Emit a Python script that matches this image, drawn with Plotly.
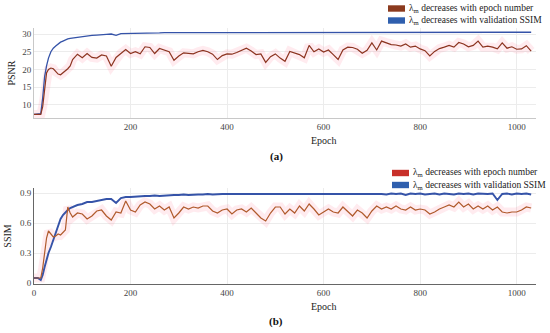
import plotly.graph_objects as go

# ---------------- data ----------------
epochs = [0, 8, 14, 18, 22, 26, 30, 35, 40, 45, 50, 55, 60, 65, 70, 75, 80,
          90, 100, 110, 120, 130, 140, 150, 160, 170, 180, 190, 200, 210, 220, 230, 240,
          250, 260, 270, 280, 290, 300, 310, 320, 330, 340, 350, 360, 370, 380, 390, 400,
          410, 420, 430, 440, 450, 460, 470, 480, 490, 500, 510, 520, 530, 540, 550, 560,
          570, 580, 590, 600, 610, 620, 630, 640, 650, 660, 670, 680, 690, 700, 710, 720,
          730, 740, 750, 760, 770, 780, 790, 800, 810, 820, 830, 840, 850, 860, 870, 880,
          890, 900, 910, 920, 930, 940, 950, 960, 970, 980, 990, 1000, 1010, 1020, 1030]

psnr_epoch = [7.3, 7.3, 7.3, 9.5, 14.5, 19.0, 20.0, 20.4, 20.2, 19.3, 18.7, 18.5, 19.0, 19.6, 20.2, 21.0, 22.8,
              24.3, 23.3, 24.5, 23.4, 23.2, 24.1, 23.8, 20.9, 23.4, 24.6, 25.6, 24.5, 25.0, 24.4, 26.4, 26.2,
              24.5, 25.9, 25.4, 25.0, 22.6, 23.8, 24.7, 24.6, 24.4, 25.0, 25.4, 25.0, 24.3, 22.8, 23.9, 24.4,
              24.3, 24.8, 25.3, 26.0, 25.2, 24.2, 24.4, 22.0, 23.6, 24.4, 23.2, 22.3, 25.1, 24.6, 24.2, 23.3,
              26.8, 25.0, 25.8, 24.9, 25.5, 24.2, 22.8, 25.5, 26.3, 26.2, 25.7, 24.6, 25.4, 27.5, 25.5, 28.0,
              27.6, 27.0, 26.9, 26.6, 27.2, 26.3, 26.6, 25.8, 25.3, 23.8, 25.1, 25.9, 26.3, 26.8, 26.3, 27.6,
              27.2, 26.4, 26.8, 28.0, 26.3, 26.6, 26.3, 25.8, 27.5, 26.0, 26.4, 25.7, 25.8, 26.7, 25.2]

psnr_ssim = [7.3, 7.3, 7.5, 12.0, 18.0, 21.0, 23.2, 25.0, 26.0, 26.6, 27.2, 27.7, 28.0, 28.4, 28.6, 28.8, 28.9,
             29.1, 29.3, 29.5, 29.6, 29.7, 29.9, 29.9, 30.0, 29.6, 30.1, 30.1, 30.2, 30.2, 30.3, 30.2, 30.3,
             30.3, 30.3, 30.4, 30.3, 30.4, 30.4, 30.4, 30.4, 30.4, 30.5, 30.4, 30.4, 30.5, 30.4, 30.5, 30.5,
             30.4, 30.5, 30.5, 30.5, 30.4, 30.5, 30.5, 30.5, 30.5, 30.5, 30.5, 30.5, 30.5, 30.5, 30.5, 30.5,
             30.5, 30.5, 30.5, 30.5, 30.5, 30.5, 30.5, 30.5, 30.5, 30.5, 30.5, 30.5, 30.5, 30.5, 30.5, 30.5,
             30.5, 30.5, 30.5, 30.5, 30.5, 30.5, 30.5, 30.5, 30.5, 30.5, 30.5, 30.5, 30.5, 30.5, 30.5, 30.5,
             30.5, 30.5, 30.5, 30.5, 30.5, 30.5, 30.5, 30.5, 30.5, 30.5, 30.5, 30.5, 30.5, 30.5, 30.5]

ssim_epoch = [0.05, 0.05, 0.05, 0.15, 0.30, 0.45, 0.52, 0.49, 0.46, 0.47, 0.49, 0.48, 0.51, 0.53, 0.76, 0.70, 0.66,
              0.70, 0.69, 0.64, 0.67, 0.72, 0.73, 0.67, 0.63, 0.71, 0.70, 0.82, 0.73, 0.71, 0.78, 0.81, 0.79,
              0.74, 0.77, 0.73, 0.76, 0.65, 0.70, 0.76, 0.74, 0.76, 0.75, 0.77, 0.77, 0.72, 0.70, 0.73, 0.74,
              0.69, 0.73, 0.74, 0.71, 0.75, 0.70, 0.65, 0.62, 0.70, 0.76, 0.76, 0.69, 0.74, 0.70, 0.77, 0.72,
              0.79, 0.74, 0.68, 0.71, 0.74, 0.71, 0.70, 0.76, 0.71, 0.67, 0.73, 0.70, 0.65, 0.72, 0.77, 0.74,
              0.76, 0.74, 0.77, 0.74, 0.73, 0.76, 0.73, 0.74, 0.73, 0.69, 0.71, 0.74, 0.76, 0.78, 0.76, 0.81,
              0.76, 0.79, 0.74, 0.77, 0.74, 0.77, 0.73, 0.76, 0.71, 0.70, 0.71, 0.71, 0.73, 0.76, 0.75]

ssim_ssim = [0.05, 0.05, 0.03, 0.08, 0.16, 0.24, 0.30, 0.36, 0.43, 0.50, 0.57, 0.64, 0.68, 0.71, 0.73, 0.75, 0.76,
             0.78, 0.79, 0.81, 0.81, 0.82, 0.83, 0.84, 0.84, 0.80, 0.85, 0.86, 0.86, 0.865, 0.87, 0.87, 0.87,
             0.875, 0.87, 0.875, 0.88, 0.88, 0.88, 0.885, 0.88, 0.885, 0.885, 0.885, 0.89, 0.885, 0.89, 0.89, 0.89,
             0.89, 0.89, 0.89, 0.895, 0.89, 0.89, 0.895, 0.89, 0.895, 0.89, 0.895, 0.895, 0.89, 0.895, 0.895, 0.89,
             0.895, 0.895, 0.89, 0.895, 0.895, 0.89, 0.895, 0.895, 0.895, 0.89, 0.895, 0.895, 0.89, 0.895, 0.895, 0.89,
             0.885, 0.895, 0.89, 0.895, 0.88, 0.895, 0.89, 0.895, 0.885, 0.89, 0.895, 0.885, 0.895, 0.89, 0.885, 0.895,
             0.89, 0.895, 0.885, 0.895, 0.89, 0.89, 0.895, 0.83, 0.89, 0.895, 0.885, 0.895, 0.89, 0.895, 0.885]

x_ticks_a = [200, 400, 600, 800, 1000]
x_ticks_b = [0, 200, 400, 600, 800, 1000]
y_ticks_a = [10, 15, 20, 25, 30]
y_ticks_b = [0, 0.3, 0.6, 0.9]
y_tick_text_b = ["0", "0.3", "0.6", "0.9"]

name_epoch = "λ<sub>m</sub> decreases with epoch number"
name_ssim = "λ<sub>m</sub> decreases with validation SSIM"

# ---------------- figure ----------------
# the page body margin is removed (post_script below), so the figure fills the window
W, H = 550, 333
SERIF = "Liberation Serif, Times New Roman, Tinos, DejaVu Serif, serif"
BLUE = "#3553a8"
RED_A = "#8c3420"
RED_B = "#b05a2c"
HALO = "rgba(255,120,150,0.15)"


def px_x(p):
    """page pixel x -> paper coordinate"""
    return p / W


def px_y(p):
    """page pixel y -> paper coordinate"""
    return 1 - p / H


fig = go.Figure()

# panel (a)
fig.add_trace(go.Scatter(x=epochs, y=psnr_epoch, mode="lines", line=dict(color=HALO, width=9),
                         hoverinfo="skip", showlegend=False, xaxis="x", yaxis="y"))
fig.add_trace(go.Scatter(x=epochs, y=psnr_ssim, mode="lines", name=name_ssim,
                         line=dict(color=BLUE, width=1.3), showlegend=False, xaxis="x", yaxis="y"))
fig.add_trace(go.Scatter(x=epochs, y=psnr_epoch, mode="lines", name=name_epoch,
                         line=dict(color=RED_A, width=1.2), showlegend=False, xaxis="x", yaxis="y"))

# panel (b)
fig.add_trace(go.Scatter(x=epochs, y=ssim_epoch, mode="lines", line=dict(color=HALO, width=9),
                         hoverinfo="skip", showlegend=False, xaxis="x2", yaxis="y2"))
fig.add_trace(go.Scatter(x=epochs, y=ssim_ssim, mode="lines", name=name_ssim,
                         line=dict(color=BLUE, width=1.9), showlegend=False, xaxis="x2", yaxis="y2"))
fig.add_trace(go.Scatter(x=epochs, y=ssim_epoch, mode="lines", name=name_epoch,
                         line=dict(color=RED_B, width=1.2), showlegend=False, xaxis="x2", yaxis="y2"))

tickfont = dict(family=SERIF, size=9, color="#444")
titlefont = dict(family=SERIF, size=10, color="#222")
axis_common = dict(showgrid=True, gridcolor="#ececec", gridwidth=1, zeroline=False,
                   ticks="", ticklen=0, tickfont=tickfont, automargin=False)

fig.update_layout(
    width=W, height=H,
    margin=dict(l=0, r=0, t=0, b=0),
    paper_bgcolor="white", plot_bgcolor="white",
    showlegend=False,
    font=dict(family=SERIF),
    xaxis=dict(domain=[px_x(34), px_x(536)], range=[0, 1040], tickvals=x_ticks_a, anchor="y",
               showline=True, linecolor="#c8c8c8", linewidth=1, **axis_common),
    yaxis=dict(domain=[px_y(118), px_y(28)], range=[6.3, 31.7], tickvals=y_ticks_a, anchor="x",
               showline=True, linecolor="#c8c8c8", linewidth=1,
               title=dict(text="PSNR", font=titlefont, standoff=4),
               **axis_common),
    xaxis2=dict(domain=[px_x(34), px_x(536)], range=[0, 1040], tickvals=x_ticks_b, anchor="y2",
                showline=True, linecolor="#666666", linewidth=1, **axis_common),
    yaxis2=dict(domain=[px_y(284), px_y(188)], range=[-0.01, 0.95], tickvals=y_ticks_b,
                ticktext=y_tick_text_b, anchor="x2", showline=True, linecolor="#666666", linewidth=1,
                title=dict(text="SSIM", font=titlefont, standoff=6),
                **axis_common),
)

# x axis titles (offset to the right of centre, as in the reference)
for yc in (140, 306):
    fig.add_annotation(text="Epoch", xref="paper", yref="paper", x=px_x(324), y=px_y(yc),
                       xanchor="center", yanchor="middle", showarrow=False, font=titlefont)

# manual legends (swatch rectangle + label), positioned in page pixels
legend_rows = [
    # (swatch_x0, swatch_x1, row_center_y, text_x, colour, label)
    (388, 405, 8.5, 407, "#8b3a1e", name_epoch),
    (388, 405, 20.5, 407, "#2f5fae", name_ssim),
    (392, 409, 173, 411, "#c8302a", name_epoch),
    (392, 409, 185, 411, "#2f5fae", name_ssim),
]
for x0, x1, yc, tx, col, label in legend_rows:
    fig.add_shape(type="rect", xref="paper", yref="paper",
                  x0=px_x(x0), x1=px_x(x1), y0=px_y(yc + 3.2), y1=px_y(yc - 3.2),
                  fillcolor=col, line=dict(width=0))
    fig.add_annotation(text=label, xref="paper", yref="paper", x=px_x(tx), y=px_y(yc),
                       xanchor="left", yanchor="middle", showarrow=False,
                       font=dict(family=SERIF, size=9.5, color="#222"))

fig.add_annotation(text="<b>(a)</b>", xref="paper", yref="paper", x=px_x(276), y=px_y(157),
                   xanchor="center", yanchor="middle", showarrow=False,
                   font=dict(family=SERIF, size=11, color="#111"))
fig.add_annotation(text="<b>(b)</b>", xref="paper", yref="paper", x=px_x(276), y=px_y(321),
                   xanchor="center", yanchor="middle", showarrow=False,
                   font=dict(family=SERIF, size=11, color="#111"))

fig.write_html("out.html",
               config={"displayModeBar": False},
               post_script="document.body.style.margin='0';document.body.style.overflow='hidden';")
